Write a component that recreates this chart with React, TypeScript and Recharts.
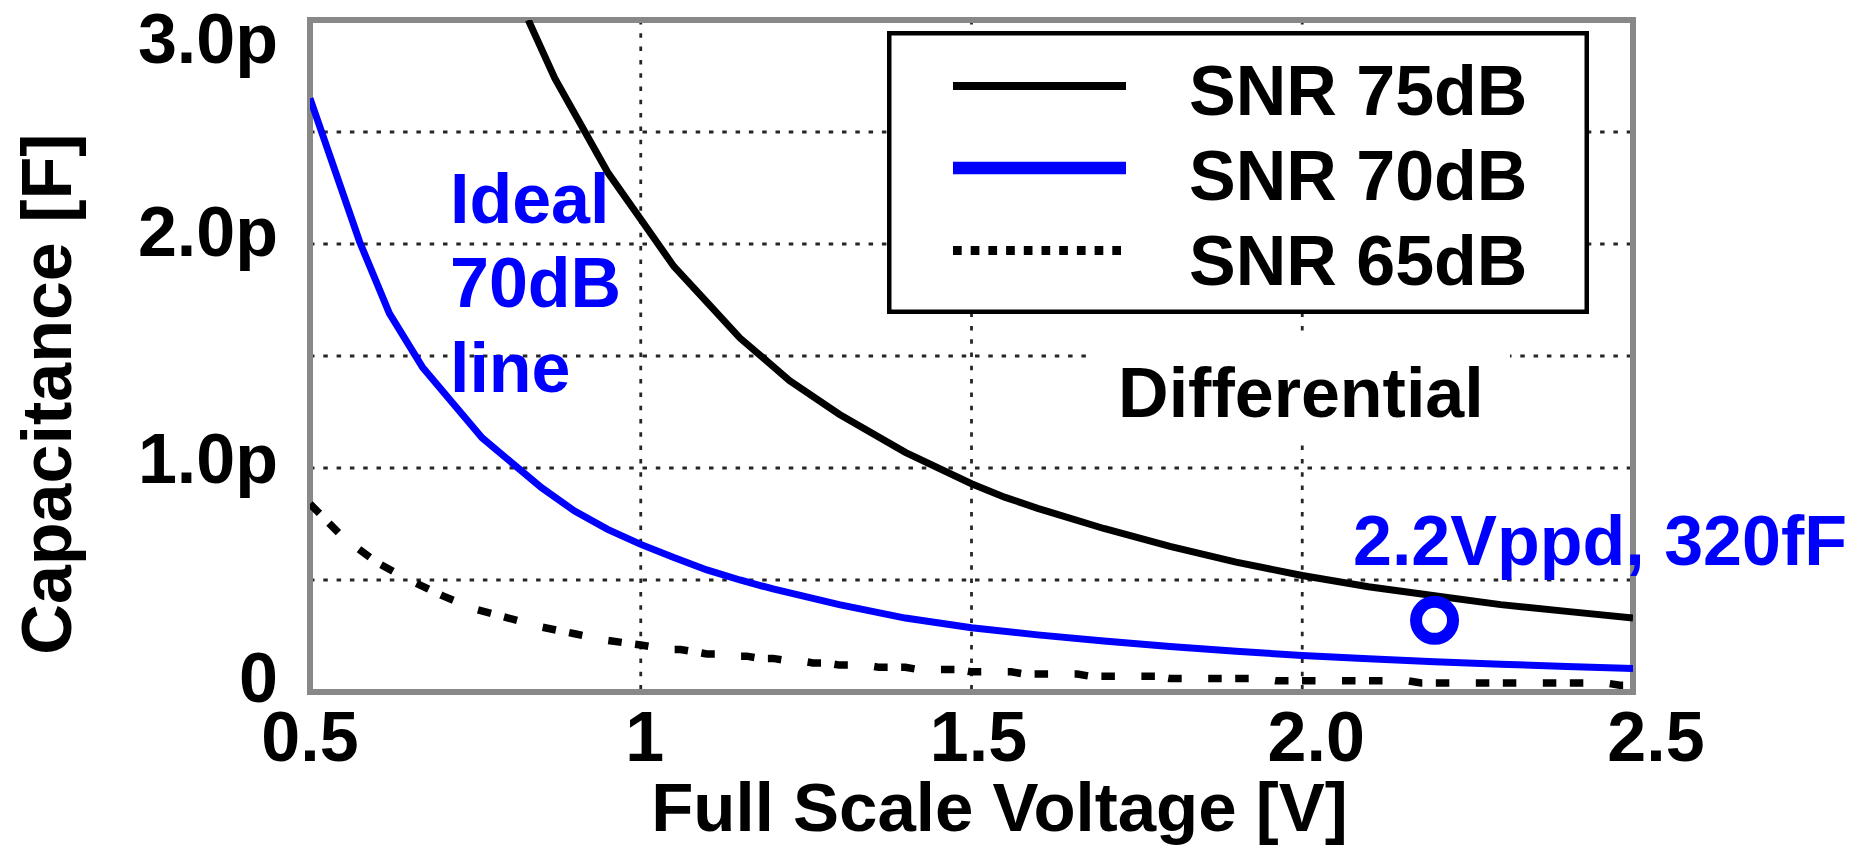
import React from 'react';
import {
  LineChart,
  Line,
  XAxis,
  YAxis,
  CartesianGrid,
  ReferenceArea,
  ReferenceDot,
  Legend,
} from 'recharts';

const FONT = '"Liberation Sans", Arial, Helvetica, sans-serif';
const BLUE = '#0000ff';
const FRAME_GRAY = '#888888';

// Full-scale voltage [V] and required sampling capacitance [pF] per SNR target
const voltage75 = [0.83, 0.87, 0.95, 1.0, 1.05, 1.1, 1.15, 1.225, 1.3, 1.4, 1.5, 1.55, 1.6, 1.7, 1.8, 1.9, 2.0, 2.1, 2.2, 2.3, 2.4, 2.5];
const cap75 = [3.0, 2.74, 2.32, 2.11, 1.9, 1.74, 1.58, 1.39, 1.24, 1.07, 0.93, 0.87, 0.82, 0.73, 0.65, 0.58, 0.52, 0.47, 0.43, 0.39, 0.36, 0.33];

const voltage70 = [0.5, 0.575, 0.62, 0.67, 0.76, 0.85, 0.9, 0.95, 1.0, 1.05, 1.1, 1.15, 1.2, 1.3, 1.4, 1.5, 1.6, 1.7, 1.8, 1.9, 2.0, 2.1, 2.2, 2.3, 2.4, 2.5];
const cap70 = [2.65, 2.01, 1.69, 1.45, 1.135, 0.912, 0.808, 0.726, 0.659, 0.6, 0.545, 0.5, 0.46, 0.39, 0.33, 0.287, 0.255, 0.228, 0.203, 0.182, 0.163, 0.148, 0.135, 0.124, 0.114, 0.105];

const voltage65 = [0.5, 0.55, 0.6, 0.65, 0.7, 0.75, 0.8, 0.85, 0.9, 0.95, 1.0, 1.02, 1.04, 1.06, 1.08, 1.1, 1.12, 1.14, 1.16, 1.18, 1.2, 1.22, 1.24, 1.26, 1.28, 1.3, 1.34, 1.36, 1.4, 1.42, 1.48, 1.5, 1.56, 1.58, 1.66, 1.68, 1.78, 1.8, 1.94, 1.96, 2.16, 2.18, 2.46, 2.48, 2.5];
const cap65 = [0.84, 0.69, 0.58, 0.5, 0.43, 0.37, 0.33, 0.29, 0.26, 0.23, 0.21, 0.2, 0.19, 0.19, 0.18, 0.17, 0.17, 0.16, 0.16, 0.15, 0.15, 0.14, 0.14, 0.13, 0.13, 0.12, 0.12, 0.11, 0.11, 0.1, 0.1, 0.09, 0.09, 0.08, 0.08, 0.07, 0.07, 0.06, 0.06, 0.05, 0.05, 0.04, 0.04, 0.03, 0.03];

// Design point: 2.2 Vppd, 320 fF
const designPoint = { v: 2.2, c: 0.32 };

const xTicks = [0.5, 1, 1.5, 2, 2.5];
const xTickText = ['0.5', '1', '1.5', '2.0', '2.5'];
const xTickShift = [0, 4, 7, 14, 23];

const yTicks = [0, 0.5, 1, 1.5, 2, 2.5, 3];
const yTickText = ['0', '', '1.0p', '', '2.0p', '', '3.0p'];
const yTickBaseline = [10, 0, 15, 0, 12, 0, 43];

const seriesNames = ['SNR 75dB', 'SNR 70dB', 'SNR 65dB'];
const seriesColors = ['#000000', BLUE, '#000000'];
const legendLineWidth = [8, 12.6, 9];
const legendDash: (string | undefined)[] = [undefined, undefined, '8.7 9'];
const legendLineY = [55, 137, 219.5];
const legendTextY = [84, 169, 254];

const toPoints = (vs: number[], cs: number[]) => vs.map((v, i) => ({ v, c: cs[i] }));
const data75 = toPoints(voltage75, cap75);
const data70 = toPoints(voltage70, cap70);
const data65 = toPoints(voltage65, cap65);

const textStyle = {
  fontFamily: FONT,
  fontWeight: 700 as const,
  fontSize: 70,
};

const vbOf = (p: any) => p?.viewBox ?? { x: 0, y: 0, width: 0, height: 0 };

const renderXTick = (props: any) => {
  const i = xTicks.indexOf(props.payload?.value);
  if (i < 0) return <g />;
  return (
    <text x={props.x + xTickShift[i]} y={props.y + 69} textAnchor="middle" fill="#000" {...textStyle}>
      {xTickText[i]}
    </text>
  );
};

const renderYTick = (props: any) => {
  const i = yTicks.indexOf(props.payload?.value);
  if (i < 0 || !yTickText[i]) return <g />;
  return (
    <text x={props.x - 32} y={props.y + yTickBaseline[i]} textAnchor="end" fill="#000" {...textStyle}>
      {yTickText[i]}
    </text>
  );
};

const renderXLabel = (props: any) => {
  const vb = vbOf(props);
  return (
    <text x={vb.x + vb.width / 2 + 28} y={vb.y + 139} textAnchor="middle" fill="#000" {...textStyle} fontSize={69}>
      Full Scale Voltage [V]
    </text>
  );
};

const renderYLabel = (props: any) => {
  const vb = vbOf(props);
  const x = vb.x + 71;
  const y = vb.y + vb.height / 2 + 38;
  return (
    <text x={x} y={y} transform={`rotate(-90, ${x}, ${y})`} textAnchor="middle" fill="#000" {...textStyle}>
      Capacitance [F]
    </text>
  );
};

const renderDifferential = (props: any) => {
  const vb = vbOf(props);
  return (
    <text x={vb.x + vb.width / 2} y={vb.y + vb.height / 2 + 27} textAnchor="middle" fill="#000" {...textStyle}>
      Differential
    </text>
  );
};

const renderIdealNote = (props: any) => {
  const vb = vbOf(props);
  const x = vb.x + vb.width / 2;
  const y = vb.y + vb.height / 2;
  return (
    <text x={x} y={y} textAnchor="start" fill={BLUE} {...textStyle}>
      <tspan x={x} y={y}>Ideal</tspan>
      <tspan x={x} y={y + 84.5}>70dB</tspan>
      <tspan x={x} y={y + 169}>line</tspan>
    </text>
  );
};

const renderDesignNote = (props: any) => {
  const vb = vbOf(props);
  return (
    <text x={vb.x + vb.width / 2} y={vb.y + vb.height / 2} textAnchor="start" fill={BLUE} {...textStyle}>
      2.2Vppd, 320fF
    </text>
  );
};

const renderLegend = (props: any) => {
  const payload: any[] = props?.payload ?? [];
  return (
    <svg width={702} height={283} style={{ display: 'block' }}>
      <rect x={2.25} y={2.25} width={697.5} height={278.5} fill="#fff" stroke="#000" strokeWidth={4.5} />
      {seriesNames.map((name, i) => {
        const entry = payload.find((p) => p.value === name);
        const color = entry?.color ?? seriesColors[i];
        return (
          <g key={name}>
            <line
              x1={66}
              x2={239}
              y1={legendLineY[i]}
              y2={legendLineY[i]}
              stroke={color}
              strokeWidth={legendLineWidth[i]}
              strokeDasharray={legendDash[i]}
            />
            <text x={302} y={legendTextY[i]} fill="#000" {...textStyle}>
              {name}
            </text>
          </g>
        );
      })}
    </svg>
  );
};

export default function App() {
  return (
    <div style={{ position: 'absolute', left: 0, top: 0, width: 1862, height: 845, background: '#fff' }}>
      <LineChart
        width={1862}
        height={845}
        margin={{ top: 20, right: 229, bottom: 0, left: 0 }}
        style={{ fontFamily: FONT }}
      >
        <CartesianGrid stroke="#000" strokeOpacity={0.85} strokeWidth={2.8} strokeDasharray="4.5 8.8" />
        <XAxis
          type="number"
          dataKey="v"
          domain={[0.5, 2.5]}
          ticks={xTicks}
          interval={0}
          allowDataOverflow
          axisLine={false}
          tickLine={false}
          tickSize={0}
          tickMargin={0}
          height={153}
          tick={renderXTick}
          label={renderXLabel}
        />
        <YAxis
          type="number"
          domain={[0, 3]}
          ticks={yTicks}
          interval={0}
          allowDataOverflow
          axisLine={false}
          tickLine={false}
          tickSize={0}
          tickMargin={0}
          width={310}
          tick={renderYTick}
          label={renderYLabel}
        />
        <ReferenceArea
          x1={1.682}
          x2={2.314}
          y1={1.112}
          y2={1.585}
          fill="#fff"
          fillOpacity={1}
          stroke="none"
          label={renderDifferential}
        />
        <ReferenceArea
          x1={0.5}
          x2={2.5}
          y1={0}
          y2={3}
          fill="none"
          stroke={FRAME_GRAY}
          strokeWidth={6}
          ifOverflow="visible"
        />
        <Line
          data={data75}
          dataKey="c"
          name={seriesNames[0]}
          type="linear"
          stroke={seriesColors[0]}
          strokeWidth={7}
          dot={false}
          activeDot={false}
          isAnimationActive={false}
        />
        <Line
          data={data70}
          dataKey="c"
          name={seriesNames[1]}
          type="linear"
          stroke={seriesColors[1]}
          strokeWidth={7}
          dot={false}
          activeDot={false}
          isAnimationActive={false}
        />
        <Line
          data={data65}
          dataKey="c"
          name={seriesNames[2]}
          type="linear"
          stroke={seriesColors[2]}
          strokeWidth={7.5}
          strokeDasharray="13.5 13.5 13.5 26.5"
          dot={false}
          activeDot={false}
          isAnimationActive={false}
        />
        <ReferenceDot
          x={designPoint.v}
          y={designPoint.c}
          r={18.5}
          fill="none"
          stroke={BLUE}
          strokeWidth={12}
        />
        <ReferenceDot x={0.7116} y={2.095} r={0} fill="none" stroke="none" label={renderIdealNote} />
        <ReferenceDot x={2.0767} y={0.567} r={0} fill="none" stroke="none" label={renderDesignNote} />
        <Legend
          verticalAlign="middle"
          align="center"
          content={renderLegend}
          wrapperStyle={{ position: 'absolute', left: 887, top: 31, width: 702, height: 283, margin: 0, padding: 0, lineHeight: 0 }}
        />
      </LineChart>
    </div>
  );
}
